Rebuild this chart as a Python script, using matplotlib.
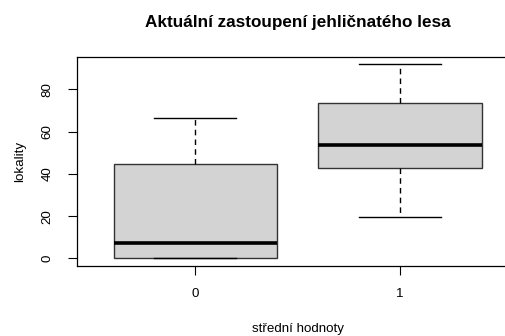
import matplotlib
matplotlib.use('Agg')
import matplotlib.pyplot as plt

# box statistics per group (whisker low, Q1, median, Q3, whisker high)
groups = ['0', '1']
whislo = [0.0, 19.4]
q1 = [0.3, 43.0]
med = [7.3, 53.7]
q3 = [44.6, 73.7]
whishi = [66.3, 91.9]

plt.rcParams['font.family'] = ['Liberation Sans', 'DejaVu Sans']

fig = plt.figure(figsize=(5.05, 3.36), dpi=100)
ax = fig.add_axes([0.152, 0.208, 0.875, 0.621])

stats = []
for i, g in enumerate(groups):
    stats.append({'label': g, 'whislo': whislo[i], 'q1': q1[i], 'med': med[i],
                  'q3': q3[i], 'whishi': whishi[i], 'fliers': []})

ax.bxp(stats, positions=[1, 2], widths=0.8, patch_artist=True,
       showfliers=False,
       boxprops=dict(facecolor='#d3d3d3', edgecolor='#333333', linewidth=1),
       medianprops=dict(color='black', linewidth=2.6, solid_capstyle='butt'),
       whiskerprops=dict(color='black', linewidth=1, linestyle=(0, (4, 3))),
       capprops=dict(color='black', linewidth=1),
       capwidths=0.4)

ax.set_xlim(0.42, 2.58)
ax.set_ylim(-3.65, 95.1)
ax.set_yticks([0, 20, 40, 60, 80])
ax.set_xticks([1, 2])
ax.set_xticklabels(groups)
ax.tick_params(axis='both', length=6.5, width=0.8, labelsize=9.6)
ax.tick_params(axis='x', pad=9)
ax.tick_params(axis='y', pad=10)
for lbl in ax.get_yticklabels():
    lbl.set_rotation(90)
    lbl.set_va('center')
for s in ax.spines.values():
    s.set_linewidth(0.9)

ax.set_title('Aktuální zastoupení jehličnatého lesa', fontsize=12.3,
             fontweight='bold', x=0.5, pad=22)
ax.set_xlabel('střední hodnoty', fontsize=9.6, labelpad=17)
ax.set_ylabel('lokality', fontsize=9.6, labelpad=11)

fig.savefig('out.png', dpi=100)
